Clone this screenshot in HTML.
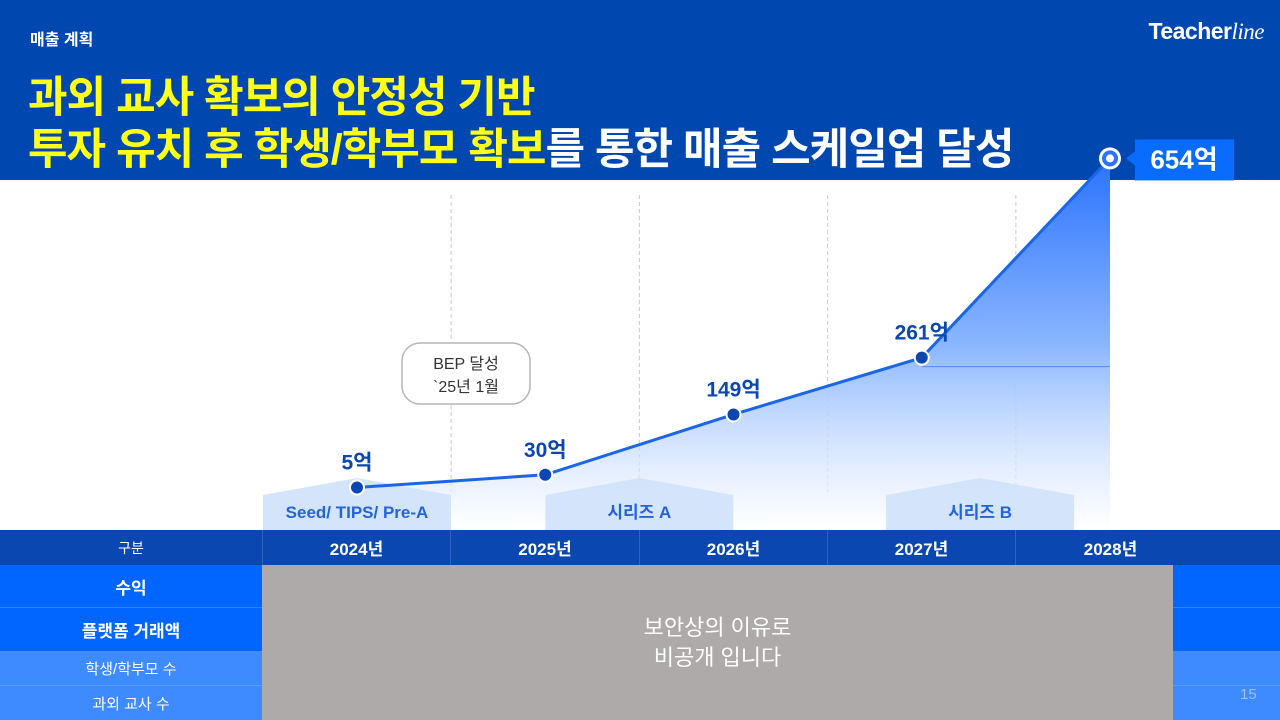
<!DOCTYPE html>
<html><head><meta charset="utf-8">
<style>
*{margin:0;padding:0;box-sizing:border-box}
body{width:1280px;height:720px;overflow:hidden;background:#fff;font-family:"Liberation Sans","Noto Sans CJK KR",sans-serif;position:relative}
.hdr{position:absolute;left:0;top:0;width:1280px;height:180px;background:#0047b0}
.sec{position:absolute;left:30px;top:26px;color:#fff;font-size:16px;font-weight:bold}
.logo{position:absolute;right:16px;top:18px;color:#fff;font-size:23px;font-weight:bold;letter-spacing:-0.5px}
.logo i{font-weight:normal;font-family:"Liberation Serif",serif}
.title{position:absolute;left:28px;top:72px;font-size:43px;font-weight:bold;line-height:52px;color:#ffff1a;letter-spacing:-1px}
.title .w{color:#fff}
svg{position:absolute;left:0;top:0}
.row{position:absolute;left:0;width:1280px}
.cell{position:absolute;top:0;height:100%;display:flex;align-items:center;justify-content:center;color:#fff}
.gray{position:absolute;left:262px;top:565px;width:911px;height:155px;background:#aeaaa9;color:#fff;font-size:22px;line-height:30px;text-align:center;padding-top:48px}
.pg{position:absolute;left:1240px;top:686px;color:#9cc3ff;font-size:15px}
</style></head><body>
<div class="hdr"></div>
<div class="sec">매출 계획</div>
<div class="logo">Teacher<i>line</i></div>
<div class="title">과외 교사 확보의 안정성 기반<br>투자 유치 후 학생/학부모 확보<span class="w">를 통한 매출 스케일업 달성</span></div>

<svg id="chart" width="1280" height="720">
<defs>
<linearGradient id="ag" x1="0" y1="0" x2="0" y2="1">
<stop offset="0" stop-color="#2a72ff"/><stop offset="0.5" stop-color="#8ab6ff"/><stop offset="1" stop-color="#ffffff" stop-opacity="0.6"/>
</linearGradient>
</defs>
</svg>

<div class="row" style="top:530px;height:35px;background:#0a47b0">
<div class="cell" style="left:0;width:262px;font-size:14px">구분</div>
<div class="cell" style="left:262px;width:188px;font-size:17px;font-weight:bold;border-left:1px solid #2c62c0">2024년</div>
<div class="cell" style="left:450px;width:189px;font-size:17px;font-weight:bold;border-left:1px solid #2c62c0">2025년</div>
<div class="cell" style="left:639px;width:188px;font-size:17px;font-weight:bold;border-left:1px solid #2c62c0">2026년</div>
<div class="cell" style="left:827px;width:188px;font-size:17px;font-weight:bold;border-left:1px solid #2c62c0">2027년</div>
<div class="cell" style="left:1015px;width:190px;font-size:17px;font-weight:bold;border-left:1px solid #2c62c0">2028년</div>
</div>
<div class="row" style="top:565px;height:43px;background:#0066ff;border-bottom:1px solid #2f7fff"><div class="cell" style="left:0;width:262px;font-size:17px;font-weight:bold">수익</div></div>
<div class="row" style="top:608px;height:43px;background:#0066ff"><div class="cell" style="left:0;width:262px;font-size:17px;font-weight:bold">플랫폼 거래액</div></div>
<div class="row" style="top:651px;height:35px;background:#3d8bff;border-bottom:1px solid #5a9cff"><div class="cell" style="left:0;width:262px;font-size:15px">학생/학부모 수</div></div>
<div class="row" style="top:686px;height:34px;background:#3d8bff"><div class="cell" style="left:0;width:262px;font-size:15px">과외 교사 수</div></div>
<div class="gray">보안상의 이유로<br>비공개 입니다</div>
<div class="pg">15</div>

<script>
const years = ["2024년","2025년","2026년","2027년","2028년"];
const revenue = [5, 30, 149, 261, 654];
const labels = ["5억","30억","149억","261억","654억"];
const rounds = ["Seed/ TIPS/ Pre-A","시리즈 A","시리즈 B"];

const svg = document.getElementById('chart');
const NS = "http://www.w3.org/2000/svg";
const x0 = 357, step = 188.25;
function xs(i){ return x0 + i*step; }
function ys(v){ return 490 - v*0.507; }
function mk(tag, attrs){ const e=document.createElementNS(NS,tag); for(const k in attrs) e.setAttribute(k,attrs[k]); svg.appendChild(e); return e; }

for(let i=0;i<4;i++){
  const g = mk('line',{x1:xs(i)+step/2,x2:xs(i)+step/2,y1:195,y2:492,stroke:'#b8cde8','stroke-dasharray':'4 3','stroke-width':1});
  
  
}
let d = `M${xs(0)},530`;
revenue.forEach((v,i)=>{ d += ` L${xs(i)},${ys(v)}`; });
d += ` L${xs(revenue.length-1)},530 Z`;
const area = mk('path',{d:d,fill:'url(#ag)'});


const hl = mk('line',{x1:xs(3),x2:xs(4),y1:ys(revenue[3])+9,y2:ys(revenue[3])+9,stroke:'#4f8cf0','stroke-width':1});


const centers = [xs(0), xs(1)+0.5*step, xs(3)+0.31*step];
centers.forEach((c,k)=>{
  const l=c-94, r=c+94;
  const p = mk('polygon',{points:`${l},495 ${c},478 ${r},495 ${r},530 ${l},530`,fill:'#cfe2fb',opacity:0.9});
  
  
  const t = mk('text',{x:c,y:518,'text-anchor':'middle','font-size':17,'font-weight':'bold',fill:'#2464d6'});
  t.textContent = rounds[k];
  
  
});
const pl = mk('polyline',{points:revenue.map((v,i)=>`${xs(i)},${ys(v)}`).join(' '),fill:'none',stroke:'#1a66e6','stroke-width':3});


revenue.forEach((v,i)=>{
  const x=xs(i), y=ys(v);
  if(i<revenue.length-1){
    const c = mk('circle',{cx:x,cy:y,r:7,fill:'#0a47b0',stroke:'#fff','stroke-width':2});
    
    
    const t = mk('text',{x:x,y:y-18,'text-anchor':'middle','font-size':21,'font-weight':'bold',fill:'#0a47b0'});
    t.textContent = labels[i];
    
    
  } else {
    const c = mk('circle',{cx:x,cy:y,r:11,fill:'#fff'});
    
    
    const c2 = mk('circle',{cx:x,cy:y,r:8,fill:'#2a72ff'});
    
    
    const c3 = mk('circle',{cx:x,cy:y,r:4,fill:'#fff'});
    
    
    const b = mk('rect',{x:x+25,y:y-19,width:99,height:41,fill:'#0a6cff'});
    
    
    const tr = mk('polygon',{points:`${x+25},${y-7} ${x+16},${y} ${x+25},${y+7}`,fill:'#0a6cff'});
    
    
    const t = mk('text',{x:x+74,y:y+10,'text-anchor':'middle','font-size':26,'font-weight':'bold',fill:'#fff'});
    t.textContent = labels[i];
    
    
  }
});
const bx = mk('rect',{x:402,y:343,width:128,height:61,rx:18,fill:'#fff',stroke:'#b5b5b5','stroke-width':1.5});


const b1 = mk('text',{x:466,y:369,'text-anchor':'middle','font-size':16,fill:'#333'});
b1.textContent='BEP 달성';


const b2 = mk('text',{x:466,y:392,'text-anchor':'middle','font-size':16,fill:'#333'});
b2.textContent='`25년 1월';


</script>
</body></html>
